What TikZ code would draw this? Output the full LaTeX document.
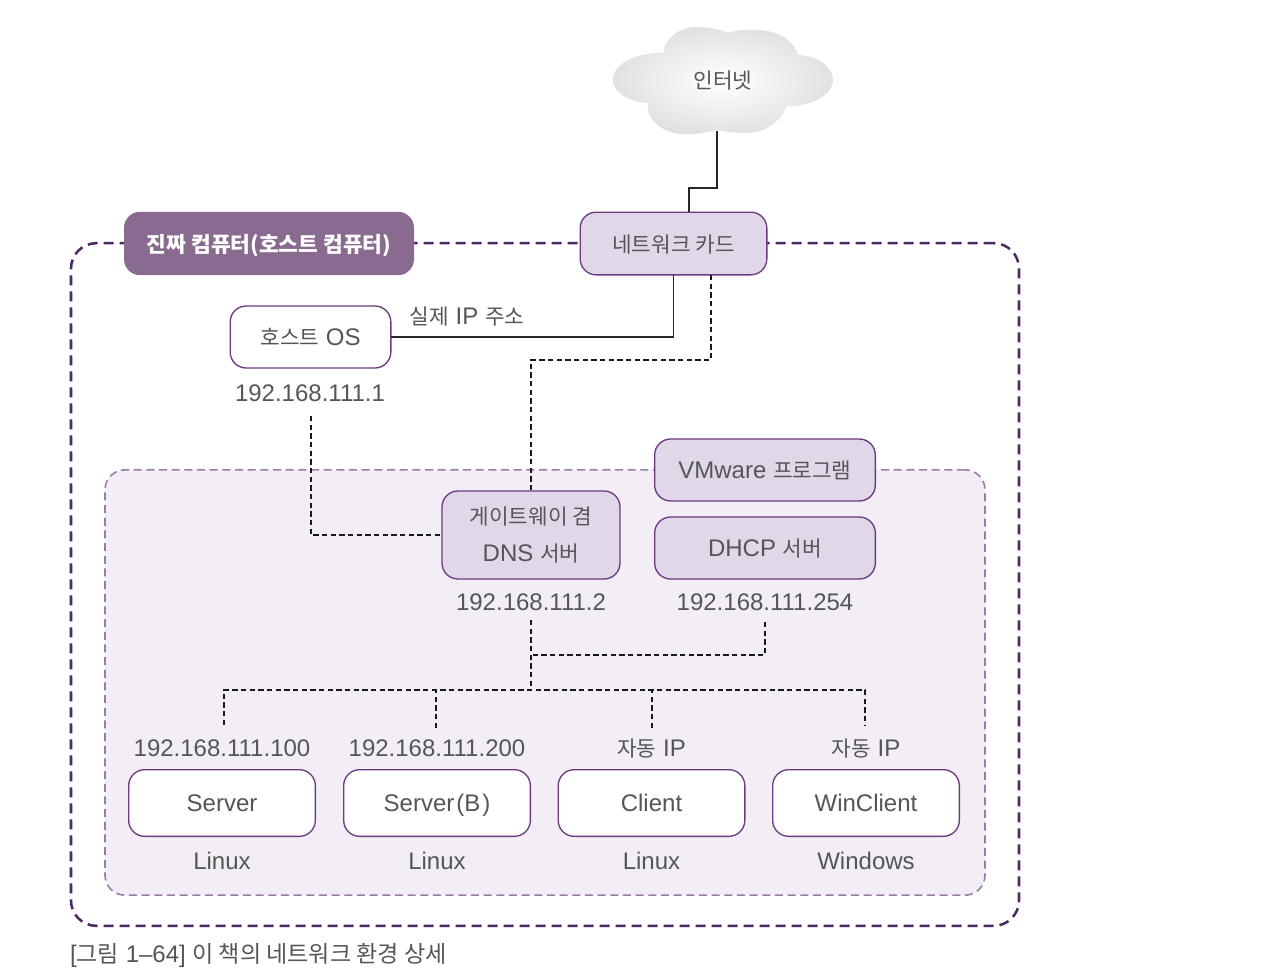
\documentclass[tikz,border=0pt]{standalone}
\usepackage{fontspec}
\setmainfont{Liberation Sans}
\newfontfamily\krfont{Noto Sans CJK KR}
\newcommand{\kor}[1]{{\krfont\fontsize{16pt}{18pt}\selectfont #1}}
\newcommand{\korcap}[1]{{\krfont\fontsize{17.3pt}{18pt}\selectfont #1}}
\newcommand{\kortitle}[1]{{\krfont\bfseries\fontsize{16.1pt}{18pt}\selectfont #1}}
\definecolor{txt}{HTML}{555555}
\definecolor{boxedge}{HTML}{6D3A82}
\definecolor{boxfill}{HTML}{E0D8E8}
\definecolor{titlefill}{HTML}{8A6B90}
\definecolor{outerdash}{HTML}{4E2A63}
\definecolor{innerdash}{HTML}{9A7CA6}
\definecolor{innerfill}{HTML}{F3EEF6}
\definecolor{cloudout}{HTML}{E0E2E2}
\tikzset{
  x=0.75pt,y=-0.75pt,
  every node/.style={inner sep=0pt,outer sep=0pt,text=txt,font=\fontsize{18pt}{20pt}\selectfont,align=center,text height=13pt,text depth=0pt},
  rbox/.style={rectangle,rounded corners=12pt,draw=boxedge,line width=1pt},
  plainbox/.style={rbox,fill=white},
  tintbox/.style={rbox,fill=boxfill},
  titlebox/.style={rectangle,rounded corners=12pt,fill=titlefill,text=white},
  hostzone/.style={rectangle,rounded corners=19pt,draw=outerdash,line width=1.9pt,dash pattern=on 7.5pt off 4.5pt,minimum width=711pt,minimum height=512pt},
  vmzone/.style={rectangle,rounded corners=15pt,draw=innerdash,fill=innerfill,line width=1.2pt,dash pattern=on 6pt off 3.5pt,minimum width=660pt,minimum height=319pt},
  solidlink/.style={draw=black!85,line width=1.1pt},
  dashlink/.style={draw=black!90,line width=0.85pt,dash pattern=on 4pt off 2.5pt},
}
\begin{document}
\begin{tikzpicture}
\useasboundingbox (0,0) rectangle (1288,978);
% cloud
\path[shade,inner color=white,outer color=cloudout,shading=radial]
 (613,80) .. controls (613,62) and (640,52) .. (663,53)
 .. controls (665,38) and (680,27) .. (695,27)
 .. controls (710,27) and (722,30) .. (728,33)
 .. controls (738,29) and (748,30) .. (757,30)
 .. controls (778,30) and (795,42) .. (798,55)
 .. controls (820,56) and (833,68) .. (833,80)
 .. controls (833,95) and (810,107) .. (787,106)
 .. controls (780,122) and (765,133) .. (747,133)
 .. controls (735,133) and (725,132) .. (717,130)
 .. controls (708,132) and (697,135) .. (683,134)
 .. controls (662,134) and (645,118) .. (648,103)
 .. controls (628,102) and (613,92) .. (613,80) -- cycle;
\node (inet) at (723,80) {\kor{인터넷}};
\coordinate (inetb) at (717,131);
% zones
\node[hostzone] (host) at (545,584.5) {};
\node[vmzone] (vm) at (545,682.5) {};
% boxes
\node[titlebox,minimum width=217.5pt,minimum height=47.5pt] (title) at (269,243.5) {\kortitle{진짜 컴퓨터(호스트 컴퓨터)}};
\node[tintbox,minimum width=140pt,minimum height=47pt] (nic) at (673.5,243.5) {\kor{네트워크 카드}};
\node[plainbox,minimum width=120.5pt,minimum height=46.5pt] (hostos) at (310.5,337) {\kor{호스트} OS};
\node[tintbox,minimum width=133.5pt,minimum height=66pt] (gw) at (531,535) {};
\node (gwa) at (531,515.5) {\kor{게이트웨이 겸}};
\node (gwb) at (531,553) {DNS \kor{서버}};
\node[tintbox,minimum width=165.5pt,minimum height=46.5pt] (vmw) at (765,470) {VMware \kor{프로그램}};
\node[tintbox,minimum width=165.5pt,minimum height=46.5pt] (dhcp) at (765,548) {DHCP \kor{서버}};
\node[plainbox,minimum width=140pt,minimum height=50pt] (s1) at (222,803) {Server};
\node[plainbox,minimum width=140pt,minimum height=50pt] (s2) at (437,803) {Server\kern1.5pt(B\kern1.5pt)};
\node[plainbox,minimum width=140pt,minimum height=50pt] (s3) at (651.5,803) {Client};
\node[plainbox,minimum width=140pt,minimum height=50pt] (s4) at (866,803) {WinClient};
% labels
\node (iplabel) at (467,316) {\kor{실제} IP \kor{주소}};
\node (ip1) at (310,393) {192.168.111.1};
\node (ip2) at (531,602) {192.168.111.2};
\node (ip254) at (765,602) {192.168.111.254};
\node (ip100) at (222,748) {192.168.111.100};
\node (ip200) at (437,748) {192.168.111.200};
\node (auto1) at (651.5,748) {\kor{자동} IP};
\node (auto2) at (866,748) {\kor{자동} IP};
\node (os1) at (222,861) {Linux};
\node (os2) at (437,861) {Linux};
\node (os3) at (651.5,861) {Linux};
\node (os4) at (866,861) {Windows};
\node[anchor=west] (cap) at (70,954) {[\korcap{그림} 1–64] \korcap{이 책의 네트워크 환경 상세}};
% free ends of the connectors
\coordinate (nicin) at (689,212);
\coordinate (nicdash) at (711,275);
\coordinate (ip1end) at (311,416);
\coordinate (ip2end) at (531,620);
\coordinate (ip254end) at (765,622);
\coordinate (bus) at (531,690);
\coordinate (t1) at (224,725);
\coordinate (t2) at (436,728);
\coordinate (t3) at (652,728);
\coordinate (t4) at (865,725);
% solid links
\draw[solidlink] (inetb) -- (717,188) -- (689,188) -- (nicin);
\draw[solidlink] (nic.south) |- (hostos.east);
% dashed links
\draw[dashlink] (nicdash) -- (711,360) -- (531,360) -- (gw.north);
\draw[dashlink] (ip1end) |- (gw.west);
\draw[dashlink] (ip2end) -- (bus);
\draw[dashlink] (ip254end) -- (765,655) -- (531,655);
\draw[dashlink] (t1) -- (224,690) -- (865,690) -- (t4);
\draw[dashlink] (t2) -- (436,690);
\draw[dashlink] (t3) -- (652,690);
\end{tikzpicture}
\end{document}
